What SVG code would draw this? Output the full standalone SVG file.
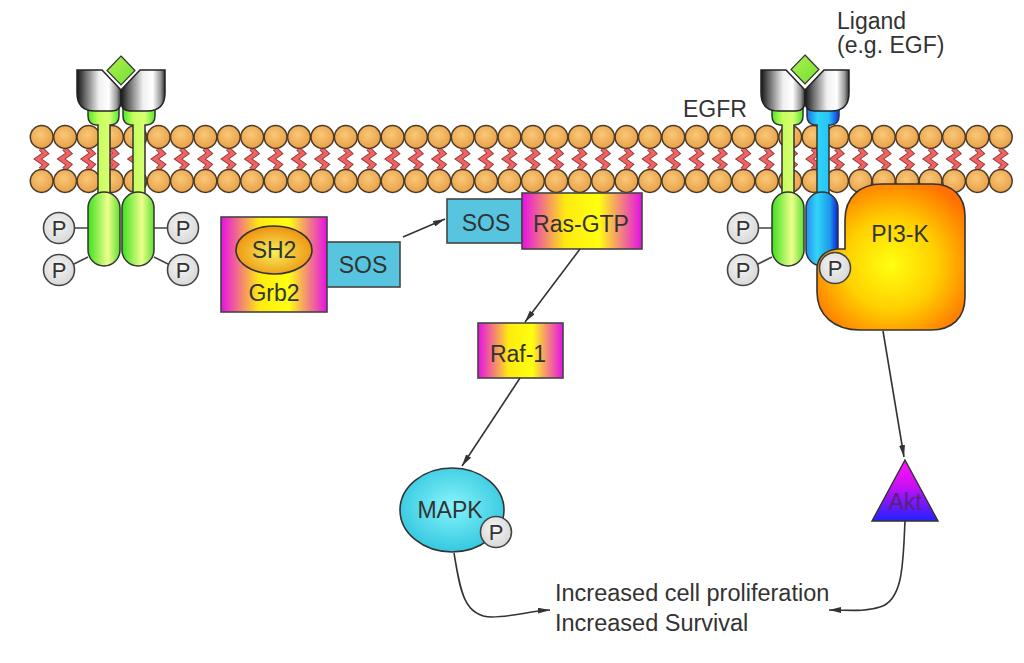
<svg xmlns="http://www.w3.org/2000/svg" xmlns:xlink="http://www.w3.org/1999/xlink" width="1024" height="663" viewBox="0 0 1024 663">
<defs>
  <radialGradient id="gHead" cx="0.45" cy="0.4" r="0.6">
    <stop offset="0" stop-color="#f9c878"/>
    <stop offset="1" stop-color="#e9a047"/>
  </radialGradient>
  <linearGradient id="gCup" x1="0" y1="0" x2="1" y2="0">
    <stop offset="0" stop-color="#151515"/>
    <stop offset="0.2" stop-color="#707070"/>
    <stop offset="0.5" stop-color="#f0f0f0"/>
    <stop offset="0.72" stop-color="#ffffff"/>
    <stop offset="0.9" stop-color="#9a9a9a"/>
    <stop offset="1" stop-color="#2e2e2e"/>
  </linearGradient>
  <linearGradient id="gDiamond" x1="0" y1="0" x2="1" y2="1">
    <stop offset="0" stop-color="#b0f050"/>
    <stop offset="1" stop-color="#70e030"/>
  </linearGradient>
  <linearGradient id="gNeckG" x1="0" y1="0" x2="1" y2="0">
    <stop offset="0" stop-color="#4ee826"/>
    <stop offset="0.33" stop-color="#c4ff5c"/>
    <stop offset="0.68" stop-color="#d8ff72"/>
    <stop offset="1" stop-color="#52e82a"/>
  </linearGradient>
  <linearGradient id="gNeckB" x1="0" y1="0" x2="1" y2="0">
    <stop offset="0" stop-color="#1a70ea"/>
    <stop offset="0.33" stop-color="#2ed4f8"/>
    <stop offset="0.68" stop-color="#28c4f6"/>
    <stop offset="1" stop-color="#1030e0"/>
  </linearGradient>
  <linearGradient id="gCylG" x1="0" y1="0" x2="1" y2="0">
    <stop offset="0" stop-color="#3ee01e"/>
    <stop offset="0.62" stop-color="#eeff8c"/>
    <stop offset="1" stop-color="#5ee030"/>
  </linearGradient>
  <linearGradient id="gCylB" x1="0" y1="0" x2="1" y2="0">
    <stop offset="0" stop-color="#2a8cf0"/>
    <stop offset="0.35" stop-color="#32d6f8"/>
    <stop offset="0.75" stop-color="#1c98ee"/>
    <stop offset="1" stop-color="#0c1ed6"/>
  </linearGradient>
  <radialGradient id="gP" cx="0.45" cy="0.4" r="0.6">
    <stop offset="0" stop-color="#f4f4f4"/>
    <stop offset="1" stop-color="#d8d8d8"/>
  </radialGradient>
  <linearGradient id="gMY" x1="0" y1="0" x2="1" y2="0">
    <stop offset="0" stop-color="#e610e6"/>
    <stop offset="0.36" stop-color="#ffea10"/>
    <stop offset="0.64" stop-color="#ffff10"/>
    <stop offset="1" stop-color="#e610e6"/>
  </linearGradient>
  <radialGradient id="gSH2" cx="0.5" cy="0.55" r="0.55">
    <stop offset="0" stop-color="#f2f25a"/>
    <stop offset="1" stop-color="#f0900e"/>
  </radialGradient>
  <radialGradient id="gPI3K" cx="0.5" cy="0.55" r="0.62">
    <stop offset="0" stop-color="#ffff10"/>
    <stop offset="0.5" stop-color="#ffd000"/>
    <stop offset="1" stop-color="#ff7000"/>
  </radialGradient>
  <radialGradient id="gMAPK" cx="0.5" cy="0.45" r="0.6">
    <stop offset="0" stop-color="#86f4fa"/>
    <stop offset="1" stop-color="#2ec4de"/>
  </radialGradient>
  <linearGradient id="gAkt" x1="0" y1="0" x2="0" y2="1">
    <stop offset="0" stop-color="#ff10ff"/>
    <stop offset="0.4" stop-color="#d010f4"/>
    <stop offset="1" stop-color="#2222ff"/>
  </linearGradient>
  <marker id="arr" viewBox="0 0 12 6" refX="12" refY="3" markerWidth="12" markerHeight="6" markerUnits="userSpaceOnUse" orient="auto">
    <path d="M0,0 L12,3 L0,6 Z" fill="#333"/>
  </marker>
  <g id="lipid">
    <path d="M-1,148.5 L4,153.5 L-4,159 L4,164.5 L-1,169.5" fill="none" stroke="#8a3a3a" stroke-width="5.2" stroke-linejoin="miter"/>
    <path d="M-1,148.5 L4,153.5 L-4,159 L4,164.5 L-1,169.5" fill="none" stroke="#f26262" stroke-width="3.4" stroke-linejoin="miter"/>
    <circle cy="137" r="11.4" fill="url(#gHead)" stroke="#4a3b2a" stroke-width="1.5"/>
    <circle cy="181" r="11.4" fill="url(#gHead)" stroke="#4a3b2a" stroke-width="1.5"/>
  </g>
  <g id="pcirc">
    <circle r="15.5" fill="url(#gP)" stroke="#444" stroke-width="1.6"/>
    <text y="8" text-anchor="middle" font-family="Liberation Sans, Arial, sans-serif" font-size="22" fill="#333">P</text>
  </g>
</defs>
<style>
  .lbl { font-family: "Liberation Sans", Arial, sans-serif; font-size: 23px; fill: #333; }
  .mid { text-anchor: middle; }
  .cup { fill: url(#gCup); stroke: #222; stroke-width: 1.5; }
  .neckG { fill: url(#gNeckG); stroke: #333; stroke-width: 1.5; }
  .neckB { fill: url(#gNeckB); stroke: #333; stroke-width: 1.5; }
  .cylG { fill: url(#gCylG); stroke: #333; stroke-width: 1.5; }
  .cylB { fill: url(#gCylB); stroke: #333; stroke-width: 1.5; }
  .lig { fill: url(#gDiamond); stroke: #333; stroke-width: 1.2; }
  .box { fill: url(#gMY); stroke: #444; stroke-width: 1.6; }
  .sos { fill: #58c5e0; stroke: #444; stroke-width: 1.6; }
  .conn { fill: none; stroke: #333; stroke-width: 1.6; marker-end: url(#arr); }
  .plink { stroke: #444; stroke-width: 1.6; fill: none; }
</style>
<rect width="1024" height="663" fill="#ffffff"/>

<g id="membrane">
  <use xlink:href="#lipid" x="41.7"/><use xlink:href="#lipid" x="65.1"/><use xlink:href="#lipid" x="88.5"/><use xlink:href="#lipid" x="111.9"/><use xlink:href="#lipid" x="135.3"/><use xlink:href="#lipid" x="158.7"/><use xlink:href="#lipid" x="182.0"/><use xlink:href="#lipid" x="205.4"/><use xlink:href="#lipid" x="228.8"/><use xlink:href="#lipid" x="252.2"/><use xlink:href="#lipid" x="275.6"/><use xlink:href="#lipid" x="299.0"/><use xlink:href="#lipid" x="322.4"/><use xlink:href="#lipid" x="345.8"/><use xlink:href="#lipid" x="369.2"/><use xlink:href="#lipid" x="392.6"/><use xlink:href="#lipid" x="416.0"/><use xlink:href="#lipid" x="439.3"/><use xlink:href="#lipid" x="462.7"/><use xlink:href="#lipid" x="486.1"/><use xlink:href="#lipid" x="509.5"/><use xlink:href="#lipid" x="532.9"/><use xlink:href="#lipid" x="556.3"/><use xlink:href="#lipid" x="579.7"/><use xlink:href="#lipid" x="603.1"/><use xlink:href="#lipid" x="626.5"/><use xlink:href="#lipid" x="649.9"/><use xlink:href="#lipid" x="673.3"/><use xlink:href="#lipid" x="696.7"/><use xlink:href="#lipid" x="720.0"/><use xlink:href="#lipid" x="743.4"/><use xlink:href="#lipid" x="766.8"/><use xlink:href="#lipid" x="790.2"/><use xlink:href="#lipid" x="813.6"/><use xlink:href="#lipid" x="837.0"/><use xlink:href="#lipid" x="860.4"/><use xlink:href="#lipid" x="883.8"/><use xlink:href="#lipid" x="907.2"/><use xlink:href="#lipid" x="930.6"/><use xlink:href="#lipid" x="954.0"/><use xlink:href="#lipid" x="977.4"/><use xlink:href="#lipid" x="1000.8"/>
</g>

<g id="receptor-left">
  <path class="plink" d="M74,228 H88 M72,265 L88,257 M168,228 H154 M170,265 L154,257"/>
  <path class="neckG" d="M88,104 H119 V116 Q119,124 111,125 H110 V196 H98 V125 H96 Q88,124 88,116 Z"/>
  <path class="neckG" d="M123,104 H155 V116 Q155,124 147,125 H145 V196 H133 V125 H131 Q123,124 123,116 Z"/>
  <rect class="cylG" x="88" y="192" width="32" height="74" rx="16"/>
  <rect class="cylG" x="122" y="192" width="32" height="74" rx="16"/>
  <path class="cup" d="M77,70 H102 L121,90 V101 Q121,111 112,111 H95 Q77,111 77,93 Z"/>
  <path class="cup" d="M121,90 L140,70 H165 V93 Q165,111 147,111 H130 Q121,111 121,101 Z"/>
  <polygon class="lig" points="121,56 135,70.5 121,85 107,70.5"/>
  <use xlink:href="#pcirc" x="59" y="228"/>
  <use xlink:href="#pcirc" x="59" y="270"/>
  <use xlink:href="#pcirc" x="183" y="228"/>
  <use xlink:href="#pcirc" x="183" y="270"/>
</g>

<g id="receptor-right">
  <path class="plink" d="M758,228 H772 M756,265 L772,257"/>
  <path class="neckG" d="M772,104 H803 V116 Q803,124 795,125 H794 V196 H782 V125 H780 Q772,124 772,116 Z"/>
  <path class="neckB" d="M807,104 H839 V116 Q839,124 831,125 H829 V196 H817 V125 H815 Q807,124 807,116 Z"/>
  <rect class="cylG" x="772" y="192" width="32" height="74" rx="16"/>
  <rect class="cylB" x="806" y="192" width="32" height="74" rx="16"/>
  <path class="cup" d="M761,70 H786 L805,90 V101 Q805,111 796,111 H779 Q761,111 761,93 Z"/>
  <path class="cup" d="M805,90 L824,70 H849 V93 Q849,111 831,111 H814 Q805,111 805,101 Z"/>
  <polygon class="lig" points="805,55 819,69.5 805,84 791,69.5"/>
  <use xlink:href="#pcirc" x="743" y="228"/>
  <use xlink:href="#pcirc" x="743" y="270"/>
</g>

<g id="pi3k">
  <path d="M845,249 L845,220 C845,197 860,184 882,184 L933,184 C953,184 965,197 965,216 L965,297 C965,318 952,330 931,330 L860,330 C834,330 817,315 817,292 L817,269 C817,257 826,250 837,249 Z" fill="url(#gPI3K)" stroke="#333" stroke-width="1.6"/>
  <text class="lbl mid" x="900" y="242">PI3-K</text>
  <use xlink:href="#pcirc" x="835" y="268"/>
</g>

<g id="labels">
  <text class="lbl" x="683" y="117">EGFR</text>
  <text class="lbl" x="837" y="29">Ligand</text>
  <text class="lbl" x="837" y="53">(e.g. EGF)</text>
</g>

<g id="grb2">
  <rect class="box" x="221" y="217" width="106" height="95"/>
  <ellipse cx="274" cy="250" rx="38" ry="24" fill="url(#gSH2)" stroke="#333" stroke-width="1.6"/>
  <text class="lbl mid" x="274" y="258">SH2</text>
  <text class="lbl mid" x="274" y="301">Grb2</text>
</g>

<g id="sos1">
  <rect class="sos" x="327" y="242" width="73" height="45"/>
  <text class="lbl mid" x="363" y="273">SOS</text>
</g>

<g id="sos-ras">
  <rect class="sos" x="447" y="199" width="75" height="44"/>
  <text class="lbl mid" x="486" y="231">SOS</text>
  <rect class="box" x="522" y="193" width="120" height="56"/>
  <text class="lbl mid" x="581" y="232">Ras-GTP</text>
</g>

<g id="raf1">
  <rect class="box" x="478" y="323" width="85" height="55"/>
  <text class="lbl mid" x="518" y="362">Raf-1</text>
</g>

<g id="mapk">
  <ellipse cx="452" cy="510" rx="52" ry="42" fill="url(#gMAPK)" stroke="#333" stroke-width="1.6"/>
  <text class="lbl mid" x="450" y="518">MAPK</text>
  <use xlink:href="#pcirc" x="496" y="532"/>
</g>

<g id="akt">
  <polygon points="905,460 938,521 872,521" fill="url(#gAkt)" stroke="#333" stroke-width="1.4"/>
  <text x="905" y="510" text-anchor="middle" font-family="Liberation Sans, Arial, sans-serif" font-size="23" fill="#5a2080">Akt</text>
</g>

<g id="outcome">
  <text class="lbl" x="555" y="601" style="font-size:23.5px">Increased cell proliferation</text>
  <text class="lbl" x="555" y="631" style="font-size:23.5px">Increased Survival</text>
</g>

<g id="connectors">
  <path class="conn" d="M403,237 L445,219"/>
  <path class="conn" d="M580,249 L525,322"/>
  <path class="conn" d="M520,378 L462,466"/>
  <path class="conn" d="M883,331 L904,457"/>
  <path class="conn" d="M454,553 C460,590 464,617 492,617 C512,617 530,611 550,610"/>
  <path class="conn" d="M905,521 C903,560 904,600 880,607 C865,612 848,610 829,610"/>
</g>
</svg>
